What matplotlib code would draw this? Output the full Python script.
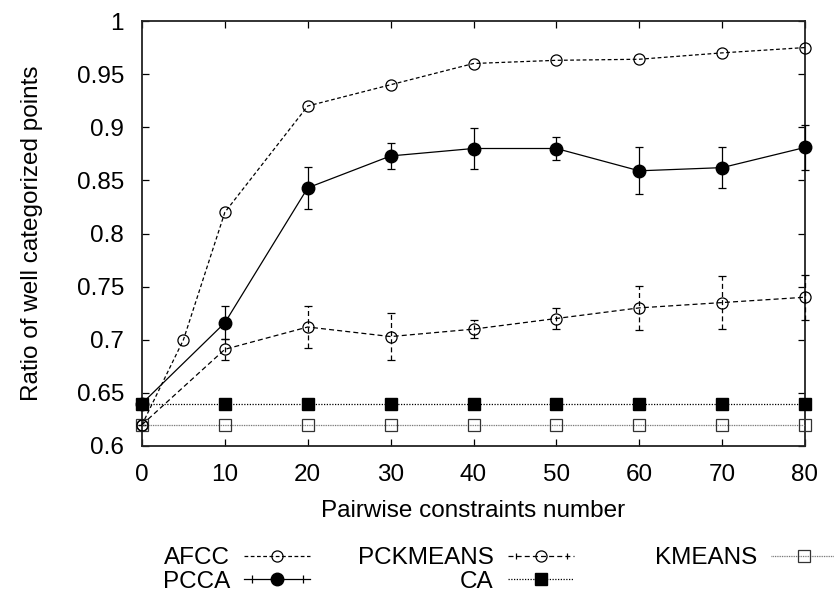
import matplotlib
matplotlib.use('Agg')
from matplotlib import pyplot as plt
from matplotlib.lines import Line2D
from matplotlib.legend_handler import HandlerLine2D, HandlerTuple

plt.rcParams['font.family'] = ['Liberation Sans', 'DejaVu Sans']

# data
x_afcc = [0, 5, 10, 20, 30, 40, 50, 60, 70, 80]
afcc = [0.62, 0.70, 0.82, 0.92, 0.94, 0.96, 0.963, 0.964, 0.97, 0.975]

x_steps = [0, 10, 20, 30, 40, 50, 60, 70, 80]
pcca = [0.64, 0.716, 0.843, 0.873, 0.880, 0.880, 0.859, 0.862, 0.881]
pcca_err = [0.0, 0.0155, 0.020, 0.012, 0.019, 0.0105, 0.022, 0.019, 0.021]

pckmeans = [0.62, 0.691, 0.712, 0.703, 0.710, 0.720, 0.730, 0.735, 0.740]
pckmeans_err = [0.0, 0.010, 0.020, 0.022, 0.0085, 0.010, 0.021, 0.025, 0.021]

ca = [0.64] * 9
kmeans = [0.62] * 9

fig = plt.figure(figsize=(8.34, 5.96), dpi=100)
ax = fig.add_axes([142/834, 1 - 446/596, (805 - 142)/834, (446 - 21)/596])

ms = 8
# AFCC
ax.plot(x_afcc, afcc, color='black', lw=0.9, ls=(0, (3, 2)), marker='o',
        ms=ms, mfc='none', mec='black', mew=0.9, clip_on=False, zorder=3)
# PCCA
l, caps, bars = ax.errorbar(x_steps, pcca, yerr=pcca_err, color='black', lw=0.9,
                            marker='o', ms=ms + 1, mfc='black', capsize=3, capthick=0.9,
                            elinewidth=0.9, zorder=4)
for a in [l] + list(caps) + list(bars):
    a.set_clip_on(False)
# PCKMEANS
l2, caps2, bars2 = ax.errorbar(x_steps, pckmeans, yerr=pckmeans_err, color='black', lw=0.9,
                               ls=(0, (4, 2.5)), marker='o', ms=ms, mfc='none', mec='black',
                               mew=0.9, capsize=3, capthick=0.9, elinewidth=0.9, zorder=3)
for b in bars2:
    b.set_linestyle((0, (4, 2.5)))
for a in [l2] + list(caps2) + list(bars2):
    a.set_clip_on(False)
# CA
ax.plot(x_steps, ca, color='black', lw=0.9, ls=(0, (1, 1.2)), marker='s', ms=ms,
        mfc='black', clip_on=False, zorder=3)
# KMEANS
ax.plot(x_steps, kmeans, color='#666666', lw=0.9, ls=(0, (0.7, 0.7)), marker='s', ms=ms,
        mfc='none', mec='#333333', mew=0.9, clip_on=False, zorder=3)

ax.set_xlim(0, 80)
ax.set_ylim(0.6, 1.0)
ax.set_xticks(range(0, 81, 10))
ax.set_yticks([0.6, 0.65, 0.7, 0.75, 0.8, 0.85, 0.9, 0.95, 1.0])
ax.set_yticklabels(['0.6', '0.65', '0.7', '0.75', '0.8', '0.85', '0.9', '0.95', '1'])
ax.tick_params(direction='in', length=5, width=0.9, top=True, right=True,
               labelsize=17.5, pad=13)
for s in ax.spines.values():
    s.set_linewidth(1.3)
    s.set_color('#222222')
ax.set_xlabel('Pairwise constraints number', fontsize=17.5, labelpad=10)
ax.set_ylabel('Ratio of well categorized points', fontsize=17.5, labelpad=24)

# legend below, gnuplot style (text left of sample)
h_afcc = Line2D([], [], color='black', lw=0.9, ls=(0, (3, 2)), marker='o', ms=ms,
                mfc='none', mec='black', mew=0.9)
h_pcca_line = Line2D([], [], color='black', lw=0.9, marker='o', ms=ms + 1, mfc='black')
h_pcca_caps = Line2D([], [], color='black', ls='none', marker='|', ms=6, mew=0.9)
h_pck_line = Line2D([], [], color='black', lw=0.9, ls=(0, (4, 2.5)), marker='o', ms=ms,
                    mfc='none', mec='black', mew=0.9)
h_pck_caps = Line2D([], [], color='black', ls='none', marker='|', ms=4, mew=0.9)
h_ca = Line2D([], [], color='black', lw=0.9, ls=(0, (1, 1.2)), marker='s', ms=ms, mfc='black')
h_km = Line2D([], [], color='#666666', lw=0.9, ls=(0, (0.7, 0.7)), marker='s', ms=ms,
              mfc='none', mec='#333333', mew=0.9)

hmap = {h_pcca_caps: HandlerLine2D(numpoints=2), h_pck_caps: HandlerLine2D(numpoints=2),
        tuple: HandlerTuple(ndivide=1, pad=0)}
kw = dict(frameon=False, markerfirst=False, fontsize=17.5, handlelength=2.7,
          handletextpad=0.6, labelspacing=0.08, borderpad=0, borderaxespad=0,
          loc='upper right', handler_map=hmap, numpoints=1)

leg1 = fig.legend([h_afcc, (h_pcca_line, h_pcca_caps)], ['AFCC', 'PCCA'],
                  bbox_to_anchor=(310/834, 1 - 547/596), **kw)
leg2 = fig.legend([(h_pck_line, h_pck_caps), h_ca], ['PCKMEANS', 'CA'],
                  bbox_to_anchor=(574/834, 1 - 547/596), **kw)
leg3 = fig.legend([h_km], ['KMEANS'], bbox_to_anchor=(837/834, 1 - 547/596), **kw)

plt.savefig('out.png', dpi=100)
